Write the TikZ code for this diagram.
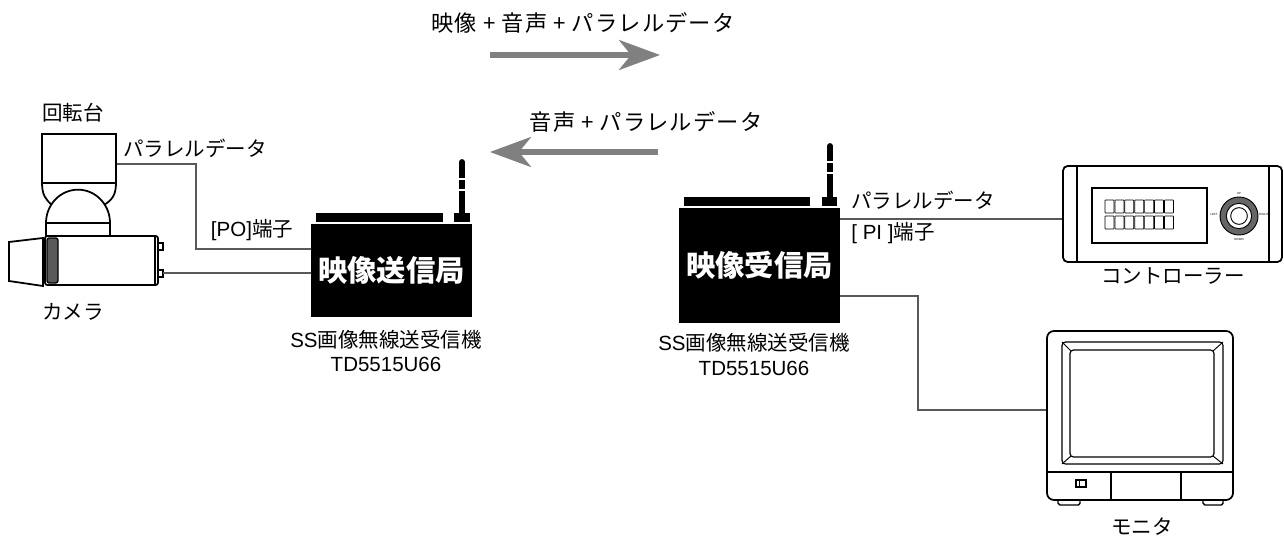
\documentclass[tikz,border=0pt]{standalone}
\usepackage{fontspec}
\setmainfont{Liberation Sans}
\newfontfamily\jp{Noto Sans CJK JP}
\newfontfamily\jpwide{Noto Sans CJK JP}[LetterSpace=5]
\usetikzlibrary{arrows.meta}

\tikzset{
  txt/.style={font=\fontsize{17.5}{20}\selectfont, inner sep=0pt},
  flowtxt/.style={font=\jpwide\fontsize{19}{22}\selectfont, inner sep=0pt},
  station/.style={fill=black, text=white, inner sep=0pt, font=\jp\bfseries\fontsize{25}{28}\selectfont},
  wire/.style={draw=black!65, line width=1pt},
  device/.style={draw=black, line width=1.5pt, fill=white, inner sep=0pt},
  flow/.style={draw=black!50, line width=4.3pt, -{Stealth[length=1.23cm, width=0.9cm, inset=0.36cm]}},
  antenna/.style={draw=black, line width=5pt, line cap=round},
  tinytxt/.style={font=\fontsize{2.5}{3}\selectfont, inner sep=0pt},
}

\begin{document}
\begin{tikzpicture}[x=0.03cm, y=-0.03cm]
    \useasboundingbox (0,0) rectangle (1284,537);

    % Datenrichtungen
    \node[flowtxt] (fwdtxt) at (583,23) {映像 + 音声 + パラレルデータ};
    \coordinate (fwdA) at (490,55);
    \coordinate (fwdB) at (660,55);
    \draw[flow] (fwdA) -- (fwdB);
    \node[flowtxt] (bwdtxt) at (646,122) {音声 + パラレルデータ};
    \coordinate (bwdA) at (658,152);
    \coordinate (bwdB) at (490,152);
    \draw[flow] (bwdA) -- (bwdB);

    % Drehtisch
    \draw[line width=1.5pt] (42,183) .. controls (42,195) and (46,200) .. (52,205);
    \draw[line width=1.5pt] (116,183) .. controls (116,195) and (112,200) .. (104,205);
    \node[device, minimum width=2.22cm, minimum height=1.47cm] (pan) at (79,158.5) {};
    \draw[line width=1.5pt, fill=white] (46,236) -- (46,223) arc[start angle=180, end angle=0, x radius=0.96cm, y radius=1cm] -- (110,236);
    \draw[line width=1.5pt] (46,223) -- (110,223);
    \node[txt] (panlbl) at (73,113) {\jp 回転台};

    % Kamera
    \draw[line width=1.5pt, fill=white] (9,242) -- (43,238) -- (43,286) -- (9,281) -- cycle;
    \node[device, rounded corners=2pt, minimum width=3.39cm, minimum height=1.47cm] (cam) at (101.5,260.5) {};
    \draw[line width=1.2pt, fill=black!65, rounded corners=2pt] (47,238) rectangle (58,283);
    \draw[line width=1pt] (155,237) -- (155,284);
    \draw[line width=1.2pt, fill=white] (158,243) rectangle (163,250);
    \draw[line width=1.2pt, fill=white] (158,270) rectangle (163,277);
    \coordinate (camout) at (163,273);
    \node[txt] (camlbl) at (73,312) {\jp カメラ};

    % Sender
    \node[station, minimum width=4.83cm, minimum height=2.79cm] (tx) at (391.5,270.5) {映像送信局};
    \fill (316,213) rectangle (443,222);
    \fill (454,213) rectangle (470,222);
    \draw[antenna] (462,213) -- (462,162);
    \draw[white, line width=1pt] (458,179) -- (466,179);
    \draw[white, line width=1pt] (458,190) -- (466,190);
    \node[txt] (txname) at (386,340) {SS{\jp 画像無線送受信機}};
    \node[txt] (txtype) at (386,364) {TD5515U66};

    % Empfaenger
    \node[station, minimum width=4.83cm, minimum height=3.45cm] (rx) at (759.5,265.5) {映像受信局};
    \fill (684,197) rectangle (810,206);
    \fill (822,197) rectangle (837,206);
    \draw[antenna] (830,197) -- (830,146);
    \draw[white, line width=1pt] (826,162) -- (834,162);
    \draw[white, line width=1pt] (826,173) -- (834,173);
    \node[txt] (rxname) at (754,343) {SS{\jp 画像無線送受信機}};
    \node[txt] (rxtype) at (754,368) {TD5515U66};

    % Steuerpult
    \node[device, rounded corners=4pt, minimum width=6.57cm, minimum height=2.88cm] (ctrl) at (1172.5,214) {};
    \draw[line width=1pt] (1077,166) -- (1077,262);
    \draw[line width=1pt] (1269,166) -- (1269,262);
    \draw[line width=1pt] (1092,188) rectangle (1207,243);
    \foreach \i in {0,...,6}
        \foreach \j in {0,1}
            \draw[line width=0.6pt, rounded corners=0.5pt] ({1105+\i*9.9},{200+\j*16}) rectangle +(9,13);
    \fill[black!60] (1239,216) circle (0.57cm);
    \draw[line width=0.8pt] (1239,216) circle (0.57cm);
    \draw[line width=0.8pt, fill=white] (1239,216) circle (0.38cm);
    \draw[line width=0.8pt] (1239,216) circle (0.25cm);
    \node[tinytxt] (jup) at (1239,194) {UP};
    \node[tinytxt] (jdown) at (1239,239) {DOWN};
    \node[tinytxt] (jleft) at (1214,214) {LEFT};
    \node[tinytxt] (jright) at (1264,214) {RIGHT};
    \node[txt] (ctrllbl) at (1173,276) {\jp コントローラー};

    % Monitor
    \draw[line width=1.2pt, fill=white, rounded corners=1.5pt] (1058,497) rectangle (1080,505);
    \draw[line width=1.2pt, fill=white, rounded corners=1.5pt] (1203,497) rectangle (1223,505);
    \node[device, rounded corners=6pt, minimum width=5.58cm, minimum height=5.07cm] (mon) at (1140,415.5) {};
    \draw[line width=1pt, rounded corners=3pt] (1062,342) rectangle (1223,464);
    \draw[line width=1pt, rounded corners=3pt] (1070,350) rectangle (1214,457);
    \draw[line width=0.8pt] (1062,342) -- (1071,351);
    \draw[line width=0.8pt] (1223,342) -- (1213,351);
    \draw[line width=0.8pt] (1062,464) -- (1071,456);
    \draw[line width=0.8pt] (1223,464) -- (1213,456);
    \draw[line width=1pt] (1047,472) -- (1233,472);
    \draw[line width=1pt] (1111,472) -- (1111,500);
    \draw[line width=1pt] (1181,472) -- (1181,500);
    \draw[line width=1pt] (1076,480) rectangle (1086,487);
    \draw[line width=0.8pt] (1079,480) -- (1079,487);
    \node[txt] (monlbl) at (1142,527) {\jp モニタ};

    % Leitungen
    \coordinate (po) at (196,249);
    \draw[wire] ([yshift=-0.165cm]pan.east) -| (po) -- (po -| tx.west);
    \draw[wire] (camout) -- (camout -| tx.west);
    \node[txt] (ptxtL) at (195,148) {\jp パラレルデータ};
    \node[txt] (polbl) at (252,230) {[PO]{\jp 端子}};

    \coordinate (pi) at (900,219);
    \draw[wire] (pi -| rx.east) -- (pi -| ctrl.west);
    \node[txt] (ptxtR) at (923,200) {\jp パラレルデータ};
    \node[txt] (pilbl) at (893,233) {[ PI ]{\jp 端子}};

    \coordinate (vo) at (918,296);
    \coordinate (vx) at (918,410);
    \draw[wire] (vo -| rx.east) -- (vo) -- (vx) -- (vx -| mon.west);
\end{tikzpicture}
\end{document}
